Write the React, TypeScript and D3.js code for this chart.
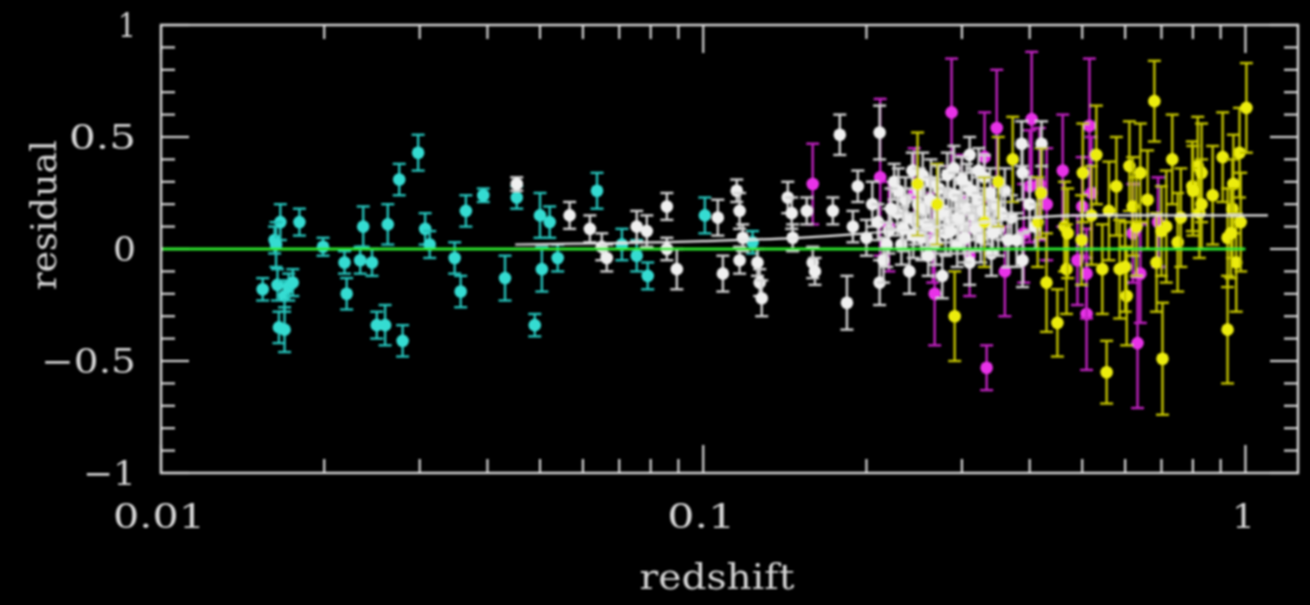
import React from 'react';
import * as d3 from 'd3';

// [redshift, residual, error]
const nearby = [
  [0.0154, -0.18, 0.05], [0.0162, 0.04, 0.06], [0.0166, 0.12, 0.08], [0.0164, -0.16, 0.07],
  [0.0169, -0.21, 0.07], [0.0172, -0.17, 0.06], [0.0175, -0.15, 0.06], [0.0165, -0.35, 0.07],
  [0.0169, -0.36, 0.1], [0.0163, 0.02, 0.1], [0.018, 0.12, 0.06], [0.0199, 0.01, 0.04],
  [0.0218, -0.06, 0.05], [0.022, -0.2, 0.07], [0.0236, 0.1, 0.09], [0.0233, -0.05, 0.06],
  [0.0245, -0.06, 0.06], [0.0262, 0.11, 0.09], [0.025, -0.34, 0.06], [0.0259, -0.34, 0.09],
  [0.0275, 0.31, 0.07], [0.0279, -0.41, 0.07], [0.0298, 0.43, 0.08], [0.0307, 0.09, 0.07],
  [0.0313, 0.02, 0.06], [0.0348, -0.04, 0.07], [0.0357, -0.19, 0.07], [0.0365, 0.17, 0.07],
  [0.0393, 0.24, 0.03], [0.0431, -0.13, 0.1], [0.0453, 0.23, 0.05], [0.0489, -0.34, 0.05],
  [0.05, 0.15, 0.1], [0.0504, -0.09, 0.1], [0.0521, 0.12, 0.07], [0.0539, -0.04, 0.06],
  [0.0637, 0.26, 0.08], [0.0708, 0.02, 0.07], [0.0754, -0.03, 0.07], [0.079, -0.12, 0.06],
  [0.1007, 0.15, 0.08], [0.1233, 0.03, 0.05],
];

const lowz = [
  [0.0453, 0.29, 0.03], [0.0567, 0.15, 0.06], [0.0618, 0.09, 0.06], [0.065, 0.01, 0.06],
  [0.0664, -0.04, 0.06], [0.0754, 0.1, 0.07], [0.0787, 0.08, 0.07], [0.0857, 0.19, 0.06],
  [0.0857, 0.0, 0.05], [0.0894, -0.09, 0.09], [0.1064, 0.14, 0.08], [0.1087, -0.11, 0.08],
  [0.1153, 0.26, 0.05], [0.1167, 0.17, 0.08], [0.1183, 0.05, 0.06], [0.1167, -0.05, 0.06],
  [0.1259, -0.06, 0.06], [0.1271, -0.15, 0.06], [0.1282, -0.22, 0.08], [0.1432, 0.23, 0.07],
  [0.1456, 0.16, 0.07], [0.1462, 0.05, 0.06], [0.1552, 0.17, 0.06], [0.1592, -0.06, 0.07],
  [0.1607, -0.1, 0.06], [0.1734, 0.17, 0.06], [0.1786, 0.51, 0.09], [0.1841, -0.24, 0.12],
  [0.1888, 0.1, 0.07], [0.1928, 0.28, 0.07], [0.2115, 0.52, 0.12], [0.2115, -0.15, 0.1],
  [0.2, 0.05, 0.08], [0.205, 0.2, 0.1], [0.21, 0.12, 0.08], [0.215, -0.05, 0.1],
  [0.22, 0.08, 0.1], [0.225, 0.3, 0.08], [0.228, 0.16, 0.1], [0.232, 0.02, 0.09],
  [0.236, 0.22, 0.1], [0.24, -0.1, 0.1], [0.243, 0.35, 0.08], [0.246, 0.12, 0.1],
  [0.25, 0.26, 0.1], [0.253, 0.05, 0.1], [0.256, 0.18, 0.1], [0.26, -0.03, 0.09],
  [0.263, 0.3, 0.1], [0.266, 0.1, 0.1], [0.27, 0.21, 0.1], [0.273, 0.15, 0.12],
  [0.276, -0.12, 0.1], [0.28, 0.07, 0.1], [0.283, 0.25, 0.1], [0.287, 0.13, 0.1],
  [0.29, 0.36, 0.1], [0.294, 0.02, 0.1], [0.298, 0.19, 0.1], [0.302, 0.1, 0.12],
  [0.306, 0.28, 0.1], [0.31, -0.06, 0.1], [0.31, 0.42, 0.08], [0.315, 0.15, 0.11],
  [0.32, 0.22, 0.1], [0.325, 0.05, 0.11], [0.33, 0.32, 0.1], [0.335, 0.12, 0.1],
  [0.34, -0.02, 0.1], [0.345, 0.2, 0.12], [0.35, 0.09, 0.12], [0.36, 0.26, 0.1],
  [0.37, 0.14, 0.1], [0.3785, 0.04, 0.12], [0.388, 0.34, 0.12], [0.3866, 0.47, 0.1],
  [0.388, -0.05, 0.12], [0.4207, 0.47, 0.1], [0.4, 0.2, 0.12], [0.41, 0.1, 0.1],
  [0.238, 0.14, 0.1], [0.244, 0.06, 0.1], [0.249, 0.2, 0.09], [0.254, 0.33, 0.1],
  [0.258, 0.11, 0.1], [0.262, 0.22, 0.1], [0.268, 0.03, 0.1], [0.272, 0.27, 0.1],
  [0.278, 0.17, 0.1], [0.282, 0.33, 0.1], [0.286, 0.08, 0.1], [0.291, 0.24, 0.1],
  [0.296, 0.14, 0.1], [0.3, 0.31, 0.1], [0.304, 0.05, 0.11], [0.308, 0.18, 0.1],
  [0.313, 0.26, 0.1], [0.318, 0.09, 0.1], [0.322, 0.35, 0.1], [0.328, 0.17, 0.1],
  [0.338, 0.25, 0.11], [0.342, 0.07, 0.1], [0.355, 0.16, 0.12], [0.365, 0.04, 0.12],
  [0.229, 0.26, 0.1], [0.222, 0.18, 0.09], [0.218, 0.02, 0.1], [0.234, 0.09, 0.1],
];

const hubble = [
  [0.1592, 0.29, 0.18], [0.212, 0.32, 0.35], [0.2672, -0.2, 0.23], [0.2871, 0.61, 0.24],
  [0.3303, 0.41, 0.2], [0.3332, -0.53, 0.1], [0.3478, 0.54, 0.26], [0.4034, 0.58, 0.3],
  [0.4171, 0.29, 0.25], [0.4603, 0.35, 0.25], [0.5093, -0.29, 0.25], [0.5093, -0.11, 0.2],
  [0.5155, 0.55, 0.3], [0.6324, -0.42, 0.29], [0.3, 0.22, 0.2], [0.245, 0.25, 0.2],
  [0.265, 0.05, 0.2], [0.4, 0.28, 0.25], [0.43, 0.2, 0.25], [0.39, 0.07, 0.22],
  [0.52, 0.25, 0.25], [0.5, 0.19, 0.22], [0.49, -0.05, 0.2], [0.64, -0.11, 0.22],
  [0.62, 0.07, 0.22], [0.69, 0.12, 0.2], [0.36, -0.1, 0.2], [0.31, -0.03, 0.18],
  [0.22, 0.1, 0.2],
];

const highz = [
  [0.2485, 0.29, 0.23], [0.2909, -0.3, 0.2], [0.3722, 0.4, 0.19], [0.4139, 0.12, 0.2],
  [0.4296, -0.15, 0.22], [0.45, -0.33, 0.15], [0.4637, 0.1, 0.2], [0.4677, -0.09, 0.2],
  [0.4986, 0.04, 0.2], [0.5012, 0.34, 0.22], [0.5309, 0.42, 0.22], [0.5445, -0.09, 0.2],
  [0.5546, -0.55, 0.14], [0.5781, 0.28, 0.22], [0.5861, -0.09, 0.22], [0.6039, -0.21, 0.22],
  [0.6109, 0.37, 0.2], [0.6194, 0.19, 0.22], [0.6295, 0.1, 0.22], [0.6792, 0.66, 0.18],
  [0.6855, -0.06, 0.22], [0.7031, -0.49, 0.25], [0.7145, 0.1, 0.25], [0.7328, 0.4, 0.2],
  [0.7499, 0.03, 0.22], [0.798, 0.28, 0.2], [0.8166, 0.37, 0.22], [0.8222, 0.16, 0.2],
  [0.9078, 0.41, 0.2], [0.9268, -0.36, 0.24], [0.9268, 0.05, 0.22], [0.9462, 0.18, 0.22],
  [0.975, 0.43, 0.2], [1.004, 0.63, 0.2], [0.9616, -0.06, 0.22], [0.56, 0.17, 0.22],
  [0.6, -0.08, 0.2], [0.64, 0.34, 0.22], [0.7, 0.08, 0.2], [0.8, 0.26, 0.2],
  [0.83, 0.34, 0.22], [0.83, 0.2, 0.2], [0.95, 0.29, 0.22], [0.94, 0.07, 0.2],
  [0.47, 0.07, 0.2], [0.35, 0.3, 0.2], [0.33, 0.12, 0.2], [0.27, 0.2, 0.18],
  [0.42, 0.25, 0.2], [0.52, 0.15, 0.22], [0.66, 0.22, 0.22], [0.76, 0.14, 0.22],
  [0.87, 0.24, 0.22], [0.98, 0.12, 0.22],
];

// binned mean (white curve)
const meanCurve = [
  [0.045, 0.02], [0.1, 0.035], [0.15, 0.05], [0.2, 0.07], [0.3, 0.11],
  [0.4, 0.14], [0.5, 0.15], [1.1, 0.15],
];

const xTickValues = [0.01, 0.1, 1];
const xTickLabels = ['0.01', '0.1', '1'];
const yTickValues = [1, 0.5, 0, -0.5, -1];
const yTickLabels = ['1', '0.5', '0', '\u22120.5', '\u22121'];

const series = [
  { data: nearby, fill: '#34dcd2', bar: '#26c2ba' },
  { data: hubble, fill: '#e832e8', bar: '#c020c0' },
  { data: lowz, fill: '#f0f0f0', bar: '#d2d2d2' },
  { data: highz, fill: '#ecec10', bar: '#c4c400' },
];

const W = 1310;
const H = 605;
const FG = '#d6d6d6';
const FONT = '"DejaVu Serif", serif';

export default function App() {
  const x = d3.scaleLog().domain([0.01, 1.25]).range([161, 1298]);
  const y = d3.scaleLinear().domain([-1, 1]).range([473, 25]);
  const [x0, x1] = x.range();
  const [yb, yt] = y.range();

  const xTicks = x.ticks();
  const yTicks = d3.range(-10, 11).map((i) => i / 10);
  const isMajorX = (v: number) => Math.abs(Math.log10(v) - Math.round(Math.log10(v))) < 1e-6;
  const isMajorY = (v: number) => Math.abs(v * 2 - Math.round(v * 2)) < 1e-6;

  const line = d3.line<number[]>().x((d) => x(d[0])).y((d) => y(d[1])).curve(d3.curveMonotoneX);

  const xLabelLen = [92, 68, 23];
  const yLabelLen = [18, 67, 23, 95, 53];

  return (
    <div style={{ position: 'fixed', left: 0, top: 0, width: W, height: H, background: '#000' }}>
      <svg width={W} height={H} style={{ display: 'block', background: '#000' }}>
        <defs>
          <filter id="soft" x="-5%" y="-5%" width="110%" height="110%">
            <feGaussianBlur stdDeviation="0.9" />
          </filter>
        </defs>
        <g filter="url(#soft)">
          {/* ticks */}
          {xTicks.map((v, i) => {
            const len = isMajorX(v) ? 28 : 14;
            return (
              <g key={'xt' + i} stroke={FG} strokeWidth={2.2}>
                <line x1={x(v)} x2={x(v)} y1={yt} y2={yt + len} />
                <line x1={x(v)} x2={x(v)} y1={yb} y2={yb - len} />
              </g>
            );
          })}
          {yTicks.map((v, i) => {
            const len = isMajorY(v) ? 28 : 14;
            return (
              <g key={'yt' + i} stroke={FG} strokeWidth={2.2}>
                <line x1={x0} x2={x0 + len} y1={y(v)} y2={y(v)} />
                <line x1={x1} x2={x1 - len} y1={y(v)} y2={y(v)} />
              </g>
            );
          })}

          {/* data */}
          {series.map((s, si) => (
            <g key={'s' + si}>
              {s.data.map((d, i) => {
                const cx = x(d[0]);
                const top = y(d[1] + d[2]);
                const bot = y(d[1] - d[2]);
                return (
                  <g key={i} stroke={s.bar} strokeWidth={2.4}>
                    <line x1={cx} x2={cx} y1={top} y2={bot} />
                    <line x1={cx - 6.5} x2={cx + 6.5} y1={top} y2={top} />
                    <line x1={cx - 6.5} x2={cx + 6.5} y1={bot} y2={bot} />
                    <circle cx={cx} cy={y(d[1])} r={6.3} fill={s.fill} stroke="none" />
                  </g>
                );
              })}
            </g>
          ))}

          <path d={line(meanCurve) || ''} fill="none" stroke="#e6e6e6" strokeWidth={2.2} />
          <line x1={x(0.01)} x2={x(1)} y1={y(0)} y2={y(0)} stroke="#2ee82e" strokeWidth={3} />

          <rect x={x0} y={yt} width={x1 - x0} height={yb - yt} fill="none" stroke={FG} strokeWidth={2.5} />

          {/* labels */}
          {yTickValues.map((v, i) => (
            <text key={'yl' + i} x={136} y={y(v)} dy="0.36em" textAnchor="end" fill={FG}
              fontFamily={FONT} fontSize={34} textLength={yLabelLen[i]} lengthAdjust="spacingAndGlyphs">
              {yTickLabels[i]}
            </text>
          ))}
          {xTickValues.map((v, i) => (
            <text key={'xl' + i} x={x(v) - 2} y={528} textAnchor="middle" fill={FG}
              fontFamily={FONT} fontSize={34} textLength={xLabelLen[i]} lengthAdjust="spacingAndGlyphs">
              {xTickLabels[i]}
            </text>
          ))}
          <text x={717} y={589} textAnchor="middle" fill={FG} fontFamily={FONT} fontSize={36}
            textLength={155} lengthAdjust="spacingAndGlyphs">redshift</text>
          <text transform="translate(56,215) rotate(-90)" textAnchor="middle" fill={FG}
            fontFamily={FONT} fontSize={36} textLength={150} lengthAdjust="spacingAndGlyphs">residual</text>
        </g>
      </svg>
    </div>
  );
}
